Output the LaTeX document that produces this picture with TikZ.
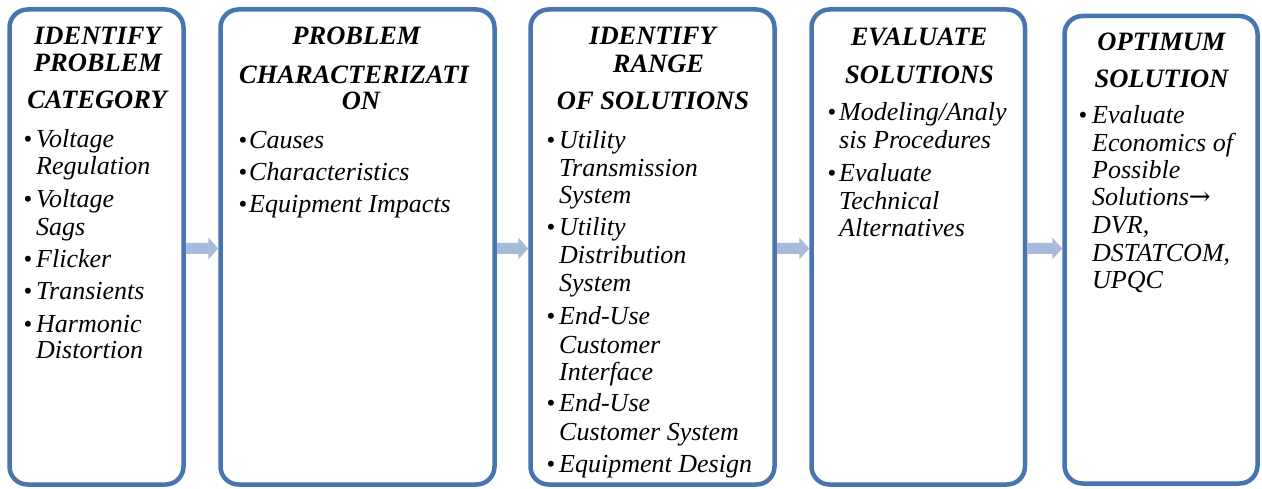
\documentclass[tikz,border=0pt]{standalone}
\usepackage{fontspec}
\setmainfont{Liberation Serif}
\newfontfamily\arrowfont{DejaVu Serif}
\usetikzlibrary{calc}
\definecolor{frame}{RGB}{71,117,175}
\definecolor{flowfill}{RGB}{166,186,218}
\begin{document}
\begin{tikzpicture}[x=1pt,y=-1pt,
  stage/.style={draw=frame, line width=4.5pt, rounded corners=18pt, fill=white, inner sep=0pt},
  heading/.style={anchor=base, inner sep=0pt, font=\fontsize{26.5}{28}\selectfont\bfseries\itshape},
  entry/.style={anchor=base west, inner sep=0pt, font=\fontsize{26}{28}\selectfont\itshape},
  dot/.style={anchor=base, inner sep=0pt, font=\fontsize{25}{25}\selectfont}]
\useasboundingbox (0,0) rectangle (1262,489);

% the five stage frames
\node[stage, minimum width=174pt, minimum height=475pt] (b1) at (96.5,247) {};
\node[stage, minimum width=274pt, minimum height=475pt] (b2) at (357.5,247) {};
\node[stage, minimum width=244pt, minimum height=475pt] (b3) at (652.5,247) {};
\node[stage, minimum width=213.5pt, minimum height=475pt] (b4) at (918.25,247) {};
\node[stage, minimum width=193pt, minimum height=467.5pt] (b5) at (1161,249.75) {};

% block arrows between consecutive stages
\coordinate (ay) at (0,248.5);
\foreach \a/\b in {b1/b2,b2/b3,b3/b4,b4/b5} {
  \path (\a.east |- ay) coordinate (s) (\b.west |- ay) coordinate (t);
  \fill[flowfill] ($(s)+(0,-5.5)$) -- ($(t)+(-10,-5.5)$) -- ($(t)+(-10,-11)$) -- (t)
     -- ($(t)+(-10,11)$) -- ($(t)+(-10,5.5)$) -- ($(s)+(0,5.5)$) -- cycle;
}

% stage 1
\node[heading] (h1a) at (97.5,45) {IDENTIFY};
\node[heading] (h1b) at (98,72) {PROBLEM};
\node[heading] (h1c) at (97,109) {CATEGORY};
\foreach \y [count=\i] in {148,208,268,300,332}
  \node[dot] (d1-\i) at (28,\y) {•};
\foreach \y/\t [count=\i] in {148/Voltage,175/Regulation,208/Voltage,236/Sags,268/Flicker,300/Transients,332/Harmonic,359/Distortion}
  \node[entry] (e1-\i) at (36,\y) {\t};

% stage 2
\node[heading] (h2a) at (356.5,45) {PROBLEM};
\node[heading] (h2b) at (354,84) {CHARACTERIZATI};
\node[heading] (h2c) at (361,110) {ON};
\foreach \y [count=\i] in {149,181,213}
  \node[dot] (d2-\i) at (243,\y) {•};
\foreach \y/\t [count=\i] in {149/Causes,181/Characteristics,213/Equipment Impacts}
  \node[entry] (e2-\i) at (249,\y) {\t};

% stage 3
\node[heading] (h3a) at (652.5,45) {IDENTIFY};
\node[heading] (h3b) at (658.5,73) {RANGE};
\node[heading] (h3c) at (653,110) {OF SOLUTIONS};
\foreach \y [count=\i] in {149,236,325,411,472}
  \node[dot] (d3-\i) at (551,\y) {•};
\foreach \y/\t [count=\i] in {149/Utility,177/Transmission,204/System,236/Utility,264/Distribution,292/System,325/End-Use,353/Customer,380/Interface,411/End-Use,440/Customer System,472/Equipment Design}
  \node[entry] (e3-\i) at (559,\y) {\t};

% stage 4
\node[heading] (h4a) at (919,46) {EVALUATE};
\node[heading] (h4b) at (919.5,84) {SOLUTIONS};
\foreach \y [count=\i] in {121,182}
  \node[dot] (d4-\i) at (832,\y) {•};
\foreach \y/\t [count=\i] in {121/{Modeling/Analy},149/sis Procedures,182/Evaluate,210/Technical,237/Alternatives}
  \node[entry] (e4-\i) at (839,\y) {\t};

% stage 5
\node[heading] (h5a) at (1161.5,51) {OPTIMUM};
\node[heading] (h5b) at (1161.5,88) {SOLUTION};
\node[dot] (d5-1) at (1083,124) {•};
\foreach \y/\t [count=\i] in {124/Evaluate,152/Economics of,179/Possible,206/{Solutions{\arrowfont\upshape →}},234/{DVR,},262/{DSTATCOM,},289/UPQC}
  \node[entry] (e5-\i) at (1092,\y) {\t};
\end{tikzpicture}
\end{document}
